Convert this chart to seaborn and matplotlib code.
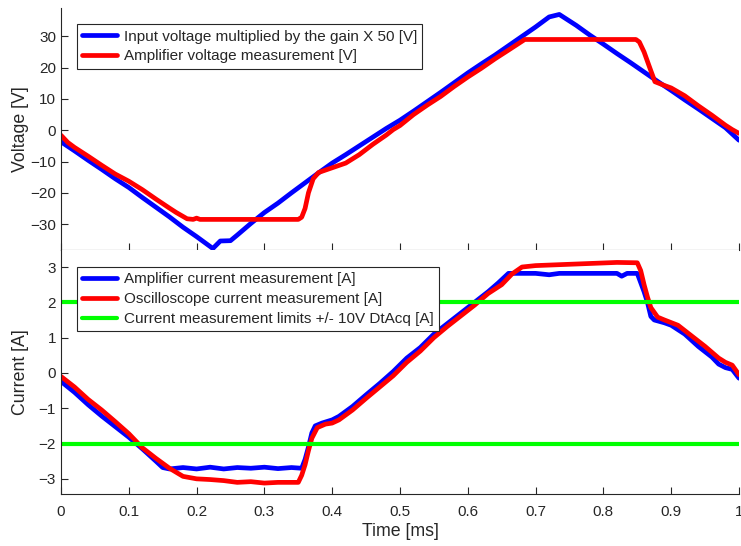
import numpy as np
import pandas as pd
import matplotlib
matplotlib.use("Agg")
import matplotlib.pyplot as plt
import seaborn as sns

# ---- voltage panel (time in ms) ----
t_vin = [0, 0.02, 0.04, 0.06, 0.08, 0.10, 0.12, 0.14, 0.16, 0.18, 0.20, 0.224,
         0.235, 0.25, 0.26, 0.28, 0.30, 0.32, 0.34, 0.36, 0.38, 0.40, 0.42, 0.44,
         0.46, 0.48, 0.50, 0.52, 0.54, 0.56, 0.58, 0.60, 0.62, 0.64, 0.66, 0.68,
         0.70, 0.72, 0.735, 0.76, 0.78, 0.80, 0.82, 0.84, 0.86, 0.88, 0.90, 0.92,
         0.94, 0.96, 0.98, 1.00]
v_in = [-3.7, -6.6, -9.6, -12.5, -15.5, -18.3, -21.5, -24.6, -27.7, -31.0, -34.0, -37.8,
        -35.4, -35.3, -33.5, -29.8, -26.3, -23.3, -20.0, -16.8, -13.6, -10.5, -7.8, -5.0,
        -2.2, 0.6, 3.2, 6.1, 9.1, 12.1, 15.2, 18.3, 21.2, 24.0, 27.0, 30.0,
        33.0, 36.2, 37.0, 33.5, 30.4, 27.5, 24.5, 21.6, 18.6, 15.6, 12.7, 9.7,
        6.8, 3.8, 0.8, -3.2]

t_vamp = [0, 0.01, 0.02, 0.04, 0.06, 0.08, 0.10, 0.12, 0.14, 0.16, 0.17, 0.186,
          0.195, 0.20, 0.205, 0.35, 0.355, 0.36, 0.365, 0.372, 0.38, 0.40, 0.42, 0.44,
          0.46, 0.48, 0.49, 0.50, 0.52, 0.54, 0.56, 0.58, 0.60, 0.62, 0.64, 0.66,
          0.684, 0.848, 0.853, 0.86, 0.87, 0.876, 0.89, 0.90, 0.92, 0.94, 0.96, 0.98,
          0.99, 1.00]
v_amp = [-1.6, -3.9, -5.5, -8.3, -11.2, -14.0, -16.3, -19.0, -22.0, -24.9, -26.3, -28.3,
         -28.5, -28.1, -28.5, -28.5, -27.8, -25.0, -20.0, -15.5, -13.5, -12.0, -10.5, -7.8,
         -4.5, -1.5, 0.2, 1.5, 5.0, 8.0, 10.8, 14.0, 17.0, 19.8, 22.8, 25.6,
         29.0, 29.0, 28.2, 25.0, 19.0, 15.5, 14.3, 13.5, 11.0, 7.8, 4.8, 1.6,
         0.2, -1.0]

# ---- current panel ----
t_iamp = [0, 0.02, 0.04, 0.06, 0.08, 0.10, 0.12, 0.14, 0.15, 0.16, 0.18, 0.20,
          0.22, 0.24, 0.26, 0.28, 0.30, 0.32, 0.34, 0.355, 0.36, 0.365, 0.37, 0.375,
          0.385, 0.40, 0.41, 0.43, 0.45, 0.47, 0.49, 0.51, 0.53, 0.55, 0.57, 0.59,
          0.61, 0.63, 0.645, 0.66, 0.70, 0.72, 0.735, 0.78, 0.82, 0.827, 0.835, 0.85,
          0.86, 0.865, 0.87, 0.875, 0.89, 0.90, 0.92, 0.94, 0.96, 0.97, 0.98, 0.99, 1.00]
i_amp = [-0.24, -0.55, -0.9, -1.22, -1.52, -1.82, -2.15, -2.5, -2.68, -2.72, -2.68, -2.72,
         -2.67, -2.72, -2.68, -2.7, -2.67, -2.71, -2.68, -2.7, -2.45, -2.1, -1.7, -1.5,
         -1.42, -1.33, -1.23, -0.95, -0.62, -0.3, 0.04, 0.42, 0.72, 1.1, 1.4, 1.7,
         2.0, 2.3, 2.55, 2.82, 2.82, 2.78, 2.82, 2.82, 2.82, 2.74, 2.82, 2.82,
         2.3, 2.0, 1.6, 1.5, 1.42, 1.35, 1.1, 0.75, 0.45, 0.25, 0.15, 0.1, -0.15]

t_iosc = [0, 0.02, 0.04, 0.06, 0.08, 0.10, 0.12, 0.14, 0.16, 0.18, 0.20, 0.22,
          0.24, 0.26, 0.28, 0.30, 0.32, 0.35, 0.355, 0.36, 0.365, 0.37, 0.378, 0.39,
          0.40, 0.41, 0.43, 0.45, 0.47, 0.49, 0.51, 0.53, 0.55, 0.57, 0.59, 0.61,
          0.63, 0.65, 0.665, 0.68, 0.70, 0.74, 0.78, 0.82, 0.85, 0.855, 0.86, 0.865,
          0.87, 0.88, 0.89, 0.91, 0.93, 0.95, 0.97, 0.98, 0.99, 1.00]
i_osc = [-0.1, -0.4, -0.75, -1.05, -1.38, -1.72, -2.12, -2.42, -2.7, -2.93, -3.0, -3.02,
         -3.05, -3.1, -3.08, -3.12, -3.1, -3.1, -2.9, -2.6, -2.2, -1.85, -1.55, -1.45,
         -1.42, -1.33, -1.05, -0.72, -0.4, -0.08, 0.3, 0.62, 1.0, 1.32, 1.62, 1.92,
         2.25, 2.5, 2.8, 3.0, 3.04, 3.07, 3.1, 3.13, 3.12, 2.9, 2.5, 2.15,
         1.85, 1.58, 1.5, 1.35, 1.05, 0.75, 0.42, 0.3, 0.22, -0.05]

limits = [2, -2]

x_ticks = [0, 0.1, 0.2, 0.3, 0.4, 0.5, 0.6, 0.7, 0.8, 0.9, 1]
x_ticklabels = ["0", "0.1", "0.2", "0.3", "0.4", "0.5", "0.6", "0.7", "0.8", "0.9", "1"]
v_ticks = [-30, -20, -10, 0, 10, 20, 30]
i_ticks = [-3, -2, -1, 0, 1, 2, 3]

sns.set_style("ticks")
plt.rcParams["font.family"] = ["Liberation Sans", "DejaVu Sans"]
plt.rcParams["font.size"] = 11
grey = "#262626"
plt.rcParams["text.color"] = grey
plt.rcParams["axes.labelcolor"] = grey
plt.rcParams["xtick.color"] = grey
plt.rcParams["ytick.color"] = grey
plt.rcParams["axes.edgecolor"] = grey

fig = plt.figure(figsize=(7.41, 5.46), dpi=100)
ax1 = fig.add_axes([0.0823, 0.542, 0.915, 0.443])
ax2 = fig.add_axes([0.0823, 0.0952, 0.915, 0.4468])

lw = 3.4
df_vin = pd.DataFrame({"t": t_vin, "v": v_in})
df_vamp = pd.DataFrame({"t": t_vamp, "v": v_amp})
sns.lineplot(data=df_vin, x="t", y="v", ax=ax1, color="#0000ff", lw=lw,
             label="Input voltage multiplied by the gain X 50 [V]")
sns.lineplot(data=df_vamp, x="t", y="v", ax=ax1, color="#ff0000", lw=lw,
             label="Amplifier voltage measurement [V]")

df_iamp = pd.DataFrame({"t": t_iamp, "i": i_amp})
df_iosc = pd.DataFrame({"t": t_iosc, "i": i_osc})
sns.lineplot(data=df_iamp, x="t", y="i", ax=ax2, color="#0000ff", lw=lw,
             label="Amplifier current measurement [A]")
sns.lineplot(data=df_iosc, x="t", y="i", ax=ax2, color="#ff0000", lw=lw,
             label="Oscilloscope current measurement [A]")
for k, lim in enumerate(limits):
    ax2.axhline(lim, color="#00ff00", lw=3,
                label="Current measurement limits +/- 10V DtAcq [A]" if k == 0 else None)

for ax in (ax1, ax2):
    sns.despine(ax=ax)
    ax.set_xlim(0, 1)
    ax.set_xticks(x_ticks)
    ax.tick_params(direction="in", length=5, width=0.8, labelsize=11)
    ax.tick_params(axis="x", pad=8)
    for s in ("left", "bottom"):
        ax.spines[s].set_linewidth(0.8)

ax1.set_ylim(-38.3, 39)
ax1.set_yticks(v_ticks)
ax1.set_xticklabels([])
ax1.set_xlabel("")
ax1.set_ylabel("Voltage [V]", fontsize=12.8, labelpad=1)

ax2.set_ylim(-3.43, 3.48)
ax2.set_yticks(i_ticks)
ax2.set_xticklabels(x_ticklabels)
ax2.set_xlabel("Time [ms]", fontsize=12.8, labelpad=3)
ax2.set_ylabel("Current [A]", fontsize=12.8, labelpad=7)

anchors = [(0.0236, 0.934), (0.0236, 0.93)]
for ax, anc in zip((ax1, ax2), anchors):
    leg = ax.legend(loc="upper left", bbox_to_anchor=anc, fancybox=False,
                    framealpha=1, edgecolor=grey, handlelength=2.3, handletextpad=0.4,
                    borderpad=0.35, labelspacing=0.38, borderaxespad=0, fontsize=11)
    leg.get_frame().set_linewidth(0.8)

fig.savefig("out.png", dpi=100)
